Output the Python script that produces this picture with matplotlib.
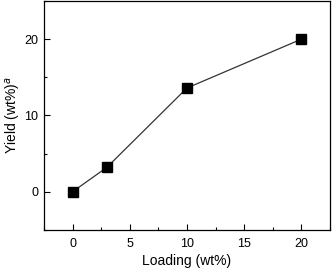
import matplotlib
matplotlib.use("Agg")
import matplotlib.pyplot as plt
from matplotlib.ticker import MultipleLocator

# data
loading = [0, 3, 10, 20]
yield_wt = [0, 3.2, 13.6, 20]

plt.rcParams['font.family'] = ['Liberation Sans', 'DejaVu Sans']

fig = plt.figure(figsize=(3.32, 2.74), dpi=100)
ax = fig.add_axes([0.1325, 0.161, 0.861, 0.835])

ax.plot(loading, yield_wt, color='#333333', lw=0.9, marker='s', ms=7,
        mfc='black', mec='black')

ax.set_xlim(-2.5, 22.5)
ax.set_ylim(-5, 25)
ax.xaxis.set_major_locator(MultipleLocator(5))
ax.xaxis.set_minor_locator(MultipleLocator(2.5))
ax.yaxis.set_major_locator(MultipleLocator(10))
ax.yaxis.set_minor_locator(MultipleLocator(5))
ax.tick_params(which='both', direction='in', labelsize=9, width=0.8)
ax.tick_params(which='major', length=4)
ax.tick_params(which='minor', length=2)
ax.tick_params(axis='x', pad=6)
ax.tick_params(axis='y', pad=4)
for s in ax.spines.values():
    s.set_linewidth(0.9)

ax.set_xlabel("Loading (wt%)", fontsize=10, labelpad=3)
ax.set_ylabel("Yield (wt%)$^a$", fontsize=10, labelpad=1)

fig.savefig("out.png", dpi=100)
